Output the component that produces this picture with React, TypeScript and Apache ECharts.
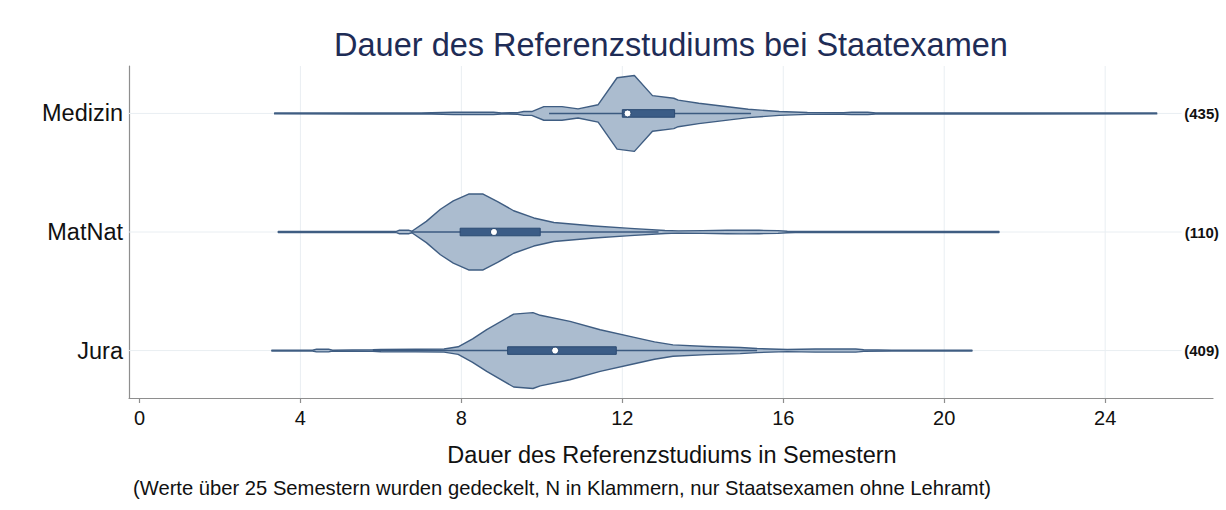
import React, { useEffect, useRef } from "react";
import * as echarts from "echarts";

// ---- Daten ----
const categories = ["Medizin", "MatNat", "Jura"];
const counts = [435, 110, 409];
const xTicks = [0, 4, 8, 12, 16, 20, 24];
const gridX = [4, 8, 12, 16, 20, 24];

// relative Dichte (Peak = 1) entlang der Dauer in Semestern
const medizinDensity: [number, number][] = [
  [3.36, 0.012], [5.5, 0.014], [7.0, 0.012], [7.8, 0.03], [8.8, 0.03], [9.0, 0.014],
  [9.4, 0.02], [9.55, 0.05], [9.75, 0.05], [10.05, 0.18], [10.5, 0.18], [10.9, 0.12],
  [11.4, 0.23], [11.87, 0.94], [12.3, 1.0], [12.75, 0.47], [13.28, 0.4], [13.39, 0.35],
  [13.9, 0.27], [15.13, 0.11], [15.9, 0.05], [16.6, 0.026], [17.5, 0.02], [17.7, 0.03],
  [18.1, 0.03], [18.3, 0.015], [25.28, 0.012],
];
const matnatDensity: [number, number][] = [
  [3.45, 0.012], [6.37, 0.012], [6.45, 0.045], [6.7, 0.045], [6.77, 0.02], [7.13, 0.28],
  [7.48, 0.6], [7.8, 0.82], [8.18, 1.0], [8.54, 1.0], [8.9, 0.8], [9.3, 0.56],
  [9.8, 0.37], [10.3, 0.25], [11.3, 0.16], [12.2, 0.095], [13.06, 0.04], [13.39, 0.03],
  [14.0, 0.035], [14.6, 0.045], [15.0, 0.05], [15.4, 0.045], [15.87, 0.035], [16.1, 0.02],
  [16.3, 0.012], [21.36, 0.012],
];
const juraDensity: [number, number][] = [
  [3.29, 0.012], [4.3, 0.012], [4.4, 0.035], [4.7, 0.035], [4.8, 0.012], [5.8, 0.02],
  [6.0, 0.03], [6.86, 0.035], [7.57, 0.04], [7.92, 0.1], [8.28, 0.31], [8.63, 0.55],
  [9.3, 0.96], [9.78, 1.0], [9.96, 0.93], [10.7, 0.77], [11.45, 0.55], [12.27, 0.355],
  [12.8, 0.23], [13.26, 0.15], [14.1, 0.107], [14.93, 0.08], [15.35, 0.053], [16.1, 0.027],
  [16.8, 0.04], [17.8, 0.04], [18.0, 0.02], [18.7, 0.012], [20.69, 0.012],
];
const densities = [medizinDensity, matnatDensity, juraDensity];

const q1 = [12.0, 7.97, 9.15];
const median = [12.13, 8.81, 10.33];
const q3 = [13.3, 9.96, 11.85];
const whiskerLow = [10.18, 6.77, 5.8];
const whiskerHigh = [15.2, 12.9, 15.35];

// ---- Layout / Stil ----
const X_MIN = -0.26;
const X_MAX = 26.68;
const Y_MIN = -0.4;
const Y_MAX = 2.4;
const HALF_WIDTH = 0.32;
const BOX_HALF = 0.032;
const GRID_H_END = 25.9;
const LABEL_X = 26.4;
const FONT = '"Liberation Sans", Arial, Helvetica, sans-serif';

export default function App() {
  const ref = useRef<HTMLDivElement>(null);

  useEffect(() => {
    if (!ref.current) return;
    const chart = echarts.init(ref.current, null, { renderer: "svg" });

    const option: any = {
      animation: false,
      backgroundColor: "#ffffff",
      grid: { left: 129, top: 66, width: 1084, height: 332, containLabel: false },
      xAxis: {
        type: "value",
        min: X_MIN,
        max: X_MAX,
        axisLine: { show: true, onZero: false, lineStyle: { color: "#8e8e8e", width: 1.2 } },
        axisTick: {
          show: true,
          customValues: xTicks,
          length: 5,
          lineStyle: { color: "#8e8e8e", width: 1.2 },
        },
        axisLabel: {
          customValues: xTicks,
          formatter: (v: number) => String(v),
          fontFamily: FONT,
          fontSize: 20,
          color: "#111111",
          margin: 10,
        },
        splitLine: { show: false },
      },
      yAxis: {
        type: "value",
        min: Y_MIN,
        max: Y_MAX,
        inverse: true,
        axisLine: { show: true, onZero: false, lineStyle: { color: "#8e8e8e", width: 1.2 } },
        axisTick: { show: false },
        axisLabel: {
          customValues: [0, 1, 2],
          formatter: (v: number) => categories[Math.round(v)] ?? "",
          fontFamily: FONT,
          fontSize: 23.5,
          color: "#111111",
          margin: 6,
        },
        splitLine: { show: false },
      },
      graphic: [
        {
          type: "text",
          x: 671,
          y: 45,
          style: {
            text: "Dauer des Referenzstudiums bei Staatexamen",
            fill: "#1e2c56",
            font: `32.5px ${FONT}`,
            textAlign: "center",
            textVerticalAlign: "middle",
          },
        },
        {
          type: "text",
          x: 672,
          y: 455,
          style: {
            text: "Dauer des Referenzstudiums in Semestern",
            fill: "#111111",
            font: `23.5px ${FONT}`,
            textAlign: "center",
            textVerticalAlign: "middle",
          },
        },
        {
          type: "text",
          x: 133,
          y: 488,
          style: {
            text: "(Werte über 25 Semestern wurden gedeckelt, N in Klammern, nur Staatsexamen ohne Lehramt)",
            fill: "#111111",
            font: `20.2px ${FONT}`,
            textAlign: "left",
            textVerticalAlign: "middle",
          },
        },
      ],
      series: [
        {
          type: "custom",
          name: "gridV",
          z: 1,
          silent: true,
          data: gridX.map((v) => [v, 0]),
          renderItem: (params: any, api: any) => {
            const v = api.value(0);
            const a = api.coord([v, Y_MIN]);
            const b = api.coord([v, Y_MAX]);
            return {
              type: "line",
              shape: { x1: a[0], y1: a[1], x2: b[0], y2: b[1] },
              style: { stroke: "#e9eef2", lineWidth: 1 },
            };
          },
        },
        {
          type: "custom",
          name: "gridH",
          z: 1,
          silent: true,
          data: categories.map((_, i) => [0, i]),
          renderItem: (params: any, api: any) => {
            const i = api.value(1);
            const a = api.coord([X_MIN, i]);
            const b = api.coord([GRID_H_END, i]);
            return {
              type: "line",
              shape: { x1: a[0], y1: a[1], x2: b[0], y2: b[1] },
              style: { stroke: "#e9eef2", lineWidth: 1 },
            };
          },
        },
        {
          type: "custom",
          name: "violin",
          z: 3,
          data: categories.map((_, i) => [median[i], i]),
          renderItem: (params: any, api: any) => {
            const i = api.value(1);
            const dens = densities[i];
            const up = dens.map(([x, d]) => api.coord([x, i - d * HALF_WIDTH]));
            const down = dens.map(([x, d]) => api.coord([x, i + d * HALF_WIDTH])).reverse();
            const b1 = api.coord([q1[i], i - BOX_HALF]);
            const b2 = api.coord([q3[i], i + BOX_HALF]);
            const w1 = api.coord([whiskerLow[i], i]);
            const w2 = api.coord([whiskerHigh[i], i]);
            const m = api.coord([median[i], i]);
            return {
              type: "group",
              children: [
                {
                  type: "polygon",
                  shape: { points: up.concat(down) },
                  style: { fill: "#abbccf", stroke: "#3f5d82", lineWidth: 1.4, lineJoin: "round" },
                },
                {
                  type: "line",
                  shape: { x1: w1[0], y1: w1[1], x2: w2[0], y2: w2[1] },
                  style: { stroke: "#3b5a80", lineWidth: 1.6 },
                },
                {
                  type: "rect",
                  shape: {
                    x: Math.min(b1[0], b2[0]),
                    y: Math.min(b1[1], b2[1]),
                    width: Math.abs(b2[0] - b1[0]),
                    height: Math.abs(b2[1] - b1[1]),
                  },
                  style: { fill: "#3b5c86", stroke: "#2b4a72", lineWidth: 1 },
                },
                {
                  type: "circle",
                  shape: { cx: m[0], cy: m[1], r: 3.5 },
                  style: { fill: "#ffffff", stroke: "#2b4a72", lineWidth: 1 },
                },
              ],
            };
          },
        },
        {
          type: "custom",
          name: "N",
          z: 4,
          silent: true,
          data: counts.map((_, i) => [LABEL_X, i]),
          renderItem: (params: any, api: any) => {
            const i = api.value(1);
            const p = api.coord([LABEL_X, i]);
            return {
              type: "text",
              x: p[0],
              y: p[1],
              style: {
                text: `(${counts[i]})`,
                fill: "#111111",
                font: `bold 15px ${FONT}`,
                textAlign: "center",
                textVerticalAlign: "middle",
              },
            };
          },
        },
      ],
    };

    chart.setOption(option);
    return () => chart.dispose();
  }, []);

  return (
    <div
      ref={ref}
      style={{ position: "fixed", left: 0, top: 0, width: "1226px", height: "510px", background: "#fff" }}
    />
  );
}
